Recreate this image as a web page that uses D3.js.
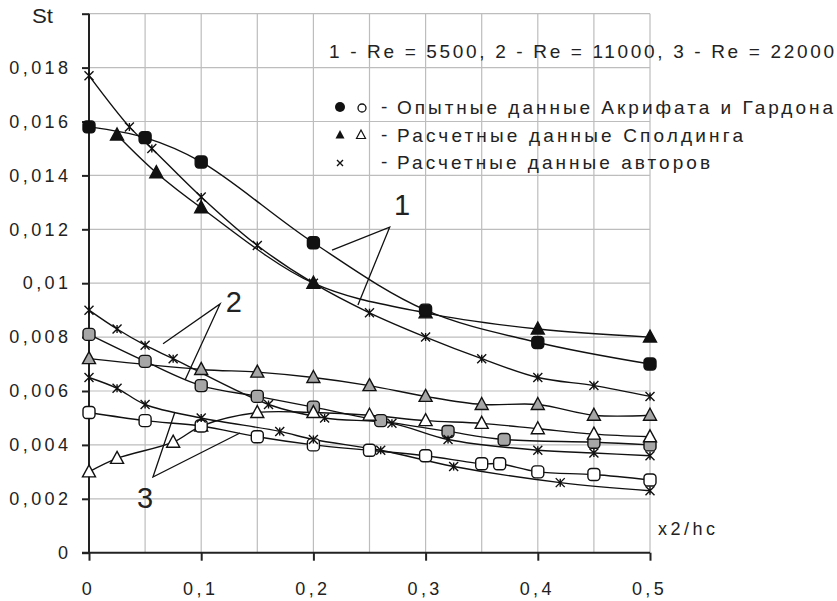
<!DOCTYPE html>
<html>
<head>
<meta charset="utf-8">
<script src="https://cdn.jsdelivr.net/npm/d3@7"></script>
<style>
  body { margin: 0; background: #fff; }
  text { font-family: "Liberation Sans", Arial, sans-serif; fill: #222; }
</style>
</head>
<body>
<svg id="chart" width="837" height="601"></svg>
<script>
// Re = 5500
const expX1 = [0, 0.05, 0.1, 0.2, 0.3, 0.4, 0.5];
const expY1 = [0.0158, 0.0154, 0.0145, 0.0115, 0.0090, 0.0078, 0.0070];
const spaX1 = [0.025, 0.06, 0.1, 0.2, 0.3, 0.4, 0.5];
const spaY1 = [0.0155, 0.0141, 0.0128, 0.0100, 0.0089, 0.0083, 0.0080];
const autX1 = [0, 0.036, 0.056, 0.1, 0.15, 0.2, 0.25, 0.3, 0.35, 0.4, 0.45, 0.5];
const autY1 = [0.0177, 0.0158, 0.0150, 0.0132, 0.0114, 0.0100, 0.0089, 0.0080, 0.0072, 0.0065, 0.0062, 0.0058];
// Re = 11000
const expX2 = [0, 0.05, 0.1, 0.15, 0.2, 0.26, 0.32, 0.37, 0.45, 0.5];
const expY2 = [0.0081, 0.0071, 0.0062, 0.0058, 0.0054, 0.0049, 0.0045, 0.0042, 0.0041, 0.0040];
const spaX2 = [0, 0.1, 0.15, 0.2, 0.25, 0.3, 0.35, 0.4, 0.45, 0.5];
const spaY2 = [0.0072, 0.0068, 0.0067, 0.0065, 0.0062, 0.0058, 0.0055, 0.0055, 0.0051, 0.0051];
const autX2 = [0, 0.025, 0.05, 0.075, 0.16, 0.21, 0.27, 0.32, 0.4, 0.45, 0.5];
const autY2 = [0.0090, 0.0083, 0.0077, 0.0072, 0.0055, 0.0050, 0.0048, 0.0042, 0.0038, 0.0037, 0.0036];
// Re = 22000
const expX3 = [0, 0.05, 0.1, 0.15, 0.2, 0.25, 0.3, 0.35, 0.366, 0.4, 0.45, 0.5];
const expY3 = [0.0052, 0.0049, 0.0047, 0.0043, 0.0040, 0.0038, 0.0036, 0.0033, 0.0033, 0.0030, 0.0029, 0.0027];
const spaX3 = [0, 0.025, 0.075, 0.1, 0.15, 0.2, 0.25, 0.3, 0.35, 0.4, 0.45, 0.5];
const spaY3 = [0.0030, 0.0035, 0.0041, 0.0047, 0.0052, 0.0052, 0.0051, 0.0049, 0.0048, 0.0046, 0.0044, 0.0043];
const autX3 = [0, 0.025, 0.05, 0.1, 0.17, 0.2, 0.26, 0.325, 0.42, 0.5];
const autY3 = [0.0065, 0.0061, 0.0055, 0.0050, 0.0045, 0.0042, 0.0038, 0.0032, 0.0026, 0.0023];

const yTicks = [0, 0.002, 0.004, 0.006, 0.008, 0.01, 0.012, 0.014, 0.016, 0.018];
const xTicks = [0, 0.1, 0.2, 0.3, 0.4, 0.5];
const titleText = '1 - Re = 5500, 2 - Re = 11000, 3 - Re = 22000';
const legendText = ['Опытные данные Акрифата и Гардона', 'Расчетные данные Сполдинга', 'Расчетные данные авторов'];
// callout labels: [label, textX, textY, fromX, fromY, toX1, toY1, toX2, toY2] in data units
const callouts = [
  ['1', 0.279, 0.01253, 0.268, 0.01208, 0.2166, 0.01123, 0.2397, 0.00919],
  ['2', 0.129, 0.00893, 0.1168, 0.00923, 0.066, 0.00775, 0.0856, 0.00641],
  ['3', 0.0499, 0.00166, 0.057, 0.00281, 0.0766, 0.00522, 0.1346, 0.00444]
];

const svg = d3.select('#chart');
const x = d3.scaleLinear().domain([0, 0.5]).range([89, 650]);
const y = d3.scaleLinear().domain([0, 0.02]).range([552.7, 13.7]);
const ru = d3.formatLocale({ decimal: ',', thousands: ' ', grouping: [3], currency: ['', ''] });
const fy = ru.format('.3~f');
const fx = ru.format('.1~f');

// grid
svg.append('g').selectAll('line')
  .data(d3.range(0.05, 0.501, 0.05))
  .enter().append('line')
  .attr('x1', d => x(d)).attr('x2', d => x(d))
  .attr('y1', y(0)).attr('y2', y(0.02))
  .attr('stroke', '#bdbdbd').attr('stroke-width', 1.2);
svg.append('g').selectAll('line')
  .data(d3.range(0.002, 0.0201, 0.002))
  .enter().append('line')
  .attr('x1', x(0)).attr('x2', x(0.5))
  .attr('y1', d => y(d)).attr('y2', d => y(d))
  .attr('stroke', '#bdbdbd').attr('stroke-width', 1.2);

// axes
const yAxis = d3.axisLeft(y).tickValues(yTicks.concat([0.02])).tickSize(7).tickPadding(10.6)
  .tickFormat(d => (d > 0.019 ? '' : fy(d)));
const gy = svg.append('g').attr('transform', `translate(${x(0)},0)`).call(yAxis);
const xAxis = d3.axisBottom(x).tickValues(xTicks).tickSize(8).tickPadding(22).tickFormat(fx);
const gx = svg.append('g').attr('transform', `translate(0,${y(0)})`).call(xAxis);
[gx, gy].forEach((g) => {
  g.select('.domain').remove();
  g.selectAll('line').attr('stroke', '#222').attr('stroke-width', 2);
  g.selectAll('text').attr('font-size', 18).attr('fill', '#222')
    .attr('font-family', '"Liberation Sans", Arial, sans-serif').attr('letter-spacing', 3.4);
});
gx.selectAll('text').attr('dx', -1);
svg.append('line').attr('x1', x(0)).attr('x2', x(0)).attr('y1', y(0)).attr('y2', y(0.02))
  .attr('stroke', '#222').attr('stroke-width', 2);
svg.append('line').attr('x1', x(0) - 7).attr('x2', x(0.5)).attr('y1', y(0)).attr('y2', y(0))
  .attr('stroke', '#222').attr('stroke-width', 2);

svg.append('text').attr('x', 32).attr('y', 23).attr('font-size', 20)
  .attr('textLength', 21).attr('lengthAdjust', 'spacingAndGlyphs').text('St');
svg.append('text').attr('x', 658).attr('y', 535).attr('font-size', 18)
  .attr('textLength', 57).attr('lengthAdjust', 'spacing').text('x2/hc');

// series
const line = d3.line().x(d => x(d[0])).y(d => y(d[1])).curve(d3.curveCatmullRom.alpha(0.5));
const zip = (xs, ys) => xs.map((v, i) => [v, ys[i]]);
const series = [
  { pts: zip(spaX2, spaY2), m: 'tri', fill: '#a6a6a6' },
  { pts: zip(expX2, expY2), m: 'sq', fill: '#a6a6a6' },
  { pts: zip(autX2, autY2), m: 'star' },
  { pts: zip(spaX3, spaY3), m: 'tri', fill: '#fff' },
  { pts: zip(expX3, expY3), m: 'sq', fill: '#fff' },
  { pts: zip(autX3, autY3), m: 'star' },
  { pts: zip(autX1, autY1), m: 'star' },
  { pts: zip(spaX1, spaY1), m: 'tri', fill: '#111' },
  { pts: zip(expX1, expY1), m: 'sq', fill: '#111' }
];
const starPath = 'M-4.5,-4.5L4.5,4.5M-4.5,4.5L4.5,-4.5M0,-4L0,4';
const triPath = 'M0,-7L6.5,5L-6.5,5Z';

series.forEach((s) => {
  svg.append('path').datum(s.pts).attr('d', line)
    .attr('fill', 'none').attr('stroke', '#111').attr('stroke-width', 1.4);
});
series.forEach((s) => {
  const g = svg.append('g');
  const sel = g.selectAll('.m').data(s.pts).enter();
  if (s.m === 'sq') {
    sel.append('rect')
      .attr('x', d => x(d[0]) - 6).attr('y', d => y(d[1]) - 6)
      .attr('width', 12).attr('height', 12).attr('rx', 3.5)
      .attr('fill', s.fill).attr('stroke', '#111').attr('stroke-width', 1.4);
  } else if (s.m === 'tri') {
    sel.append('path').attr('d', triPath)
      .attr('transform', d => `translate(${x(d[0])},${y(d[1])})`)
      .attr('fill', s.fill).attr('stroke', '#111').attr('stroke-width', 1.4);
  } else {
    sel.append('path').attr('d', starPath)
      .attr('transform', d => `translate(${x(d[0])},${y(d[1])})`)
      .attr('fill', 'none').attr('stroke', '#111').attr('stroke-width', 1.4);
  }
});

// callouts
callouts.forEach((c) => {
  svg.append('path')
    .attr('d', `M${x(c[5])},${y(c[6])}L${x(c[3])},${y(c[4])}L${x(c[7])},${y(c[8])}`)
    .attr('fill', 'none').attr('stroke', '#111').attr('stroke-width', 1.3);
  svg.append('text').attr('x', x(c[1])).attr('y', y(c[2]))
    .attr('text-anchor', 'middle').attr('font-size', 29).text(c[0]);
});

// legend
svg.append('text').attr('x', 329).attr('y', 58).attr('font-size', 19)
  .attr('textLength', 505).attr('lengthAdjust', 'spacing').text(titleText);
const ly = [107, 135, 162];
const lw = [436, 346, 313];
legendText.forEach((t, i) => {
  svg.append('text').attr('x', 381).attr('y', ly[i] + 6).attr('font-size', 19).text('-');
  svg.append('text').attr('x', 397).attr('y', ly[i] + 7).attr('font-size', 19)
    .attr('textLength', lw[i]).attr('lengthAdjust', 'spacing').text(t);
});
svg.append('circle').attr('cx', 340).attr('cy', ly[0]).attr('r', 5).attr('fill', '#111');
svg.append('circle').attr('cx', 362).attr('cy', ly[0] + 1).attr('r', 4).attr('fill', '#fff')
  .attr('stroke', '#111').attr('stroke-width', 1.3);
svg.append('path').attr('d', 'M0,-5L4.5,3.5L-4.5,3.5Z').attr('transform', `translate(340,${ly[1]})`)
  .attr('fill', '#111');
svg.append('path').attr('d', 'M0,-5L4.5,3.5L-4.5,3.5Z').attr('transform', `translate(361,${ly[1]})`)
  .attr('fill', '#fff').attr('stroke', '#111').attr('stroke-width', 1.2);
svg.append('path').attr('d', 'M-3,-3L3,3M-3,3L3,-3').attr('transform', `translate(340,${ly[2] + 1})`)
  .attr('stroke', '#111').attr('stroke-width', 1.4);
</script>
</body>
</html>
